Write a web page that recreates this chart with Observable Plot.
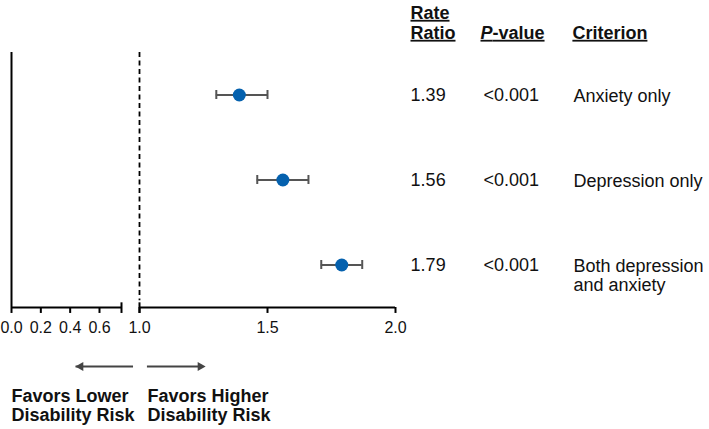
<!DOCTYPE html>
<html><head><meta charset="utf-8">
<script src="https://cdn.jsdelivr.net/npm/d3@7"></script>
<script src="https://cdn.jsdelivr.net/npm/@observablehq/plot@0.6"></script>
<style>
body{margin:0;background:#fff;}
</style></head><body><div id="chart"></div>
<script>
// ---- data ----
const criteria = ["Anxiety only", "Depression only", "Both depression\nand anxiety"];
const rateRatio = [1.39, 1.56, 1.79];
const ciLow = [1.30, 1.46, 1.71];
const ciHigh = [1.50, 1.66, 1.87];
const pValues = ["<0.001", "<0.001", "<0.001"];
const headers = ["Rate\nRatio", "P-value", "Criterion"];
const xTicks = [0, 0.2, 0.4, 0.6, 1.0, 1.5, 2.0];
const axisSegments = [[0, 0.75], [1, 2]];
const favorLabels = ["Favors Lower\nDisability Risk", "Favors Higher\nDisability Risk"];

const rows = criteria.map((c, i) => ({row: i + 1, criterion: c, rr: rateRatio[i], lo: ciLow[i], hi: ciHigh[i], p: pValues[i]}));
const segs = axisSegments.map(([a, b]) => ({a, b}));

// broken-axis transform: 0–0.75 compressed, gap, 1–2 expanded
const brokenAxis = d3.scaleLinear().domain([0, 0.75, 1, 2]).range([0, 110, 128, 384]);

// column positions (in x-scale units, to the right of the plotted range)
const colRR = 2.059, colP = 2.344, colCrit = 2.695;
const hdrX = [2.0586, 2.332, 2.691];
const capHalf = 0.053;
const axisY = 3.5;
const font = "Liberation Sans, Arial, Helvetica, sans-serif";

const plot = Plot.plot({
  width: 709,
  height: 429,
  marginTop: 52,
  marginBottom: 122,
  style: {fontFamily: font, fontSize: "18px", color: "#000", background: "#fff"},
  x: {transform: v => brokenAxis(v), domain: [0, 384], range: [11, 395], axis: null},
  y: {domain: [0.5, 3.5], reverse: true, axis: null},
  marks: [
    // left solid line
    Plot.ruleX([0], {y1: 0.5, y2: axisY, stroke: "#000", strokeWidth: 2}),
    // reference dashed line at 1
    Plot.ruleX([1], {y1: 0.5, y2: 3.42, stroke: "#000", strokeWidth: 1.8, strokeDasharray: "5,3.5"}),
    // broken axis
    Plot.ruleY(segs, {x1: "a", x2: "b", y: axisY, stroke: "#000", strokeWidth: 2}),
    Plot.ruleX([0.75, 1], {y1: axisY - 0.055, y2: axisY + 0.07, stroke: "#000", strokeWidth: 2}),
    Plot.ruleX(xTicks, {x: d => d, y1: axisY, y2: axisY + 0.07, stroke: "#000", strokeWidth: 2}),
    Plot.text(xTicks, {x: d => d, y: axisY, text: d => d3.format(".1f")(d), lineAnchor: "top", dy: 14.6, fontSize: 16, fill: "#111"}),
    // CI
    Plot.ruleY(rows, {x1: "lo", x2: "hi", y: "row", stroke: "#555", strokeWidth: 2}),
    Plot.ruleX(rows, {x: "lo", y1: d => d.row - capHalf, y2: d => d.row + capHalf, stroke: "#555", strokeWidth: 2}),
    Plot.ruleX(rows, {x: "hi", y1: d => d.row - capHalf, y2: d => d.row + capHalf, stroke: "#555", strokeWidth: 2}),
    Plot.dot(rows, {x: "rr", y: "row", r: 6.5, fill: "#0561AE", stroke: "none"}),
    // table
    Plot.text(rows, {x: colRR, y: "row", text: d => d3.format(".2f")(d.rr), textAnchor: "start", fontSize: 18, fill: "#111"}),
    Plot.text(rows, {x: colP, y: "row", text: "p", textAnchor: "start", fontSize: 18, fill: "#111"}),
    Plot.text(rows, {x: colCrit, y: "row", text: "criterion", textAnchor: "start", lineAnchor: "top", lineHeight: 1.06, dy: -7, fontSize: 18, fill: "#111"}),
    // headers
    Plot.text(headers, {x: hdrX, y: 0.3388, text: d => d, textAnchor: "start", lineAnchor: "bottom", lineHeight: 1.11, fontWeight: "bold", fontSize: 18, fill: "#111"}),
    // favor arrows
    Plot.ruleY([0], {x1: 0.44, x2: 0.917, y: 4.194, stroke: "#444", strokeWidth: 2}),
    Plot.ruleY([0], {x1: 1.031, x2: 1.24, y: 4.194, stroke: "#444", strokeWidth: 2}),
    Plot.dot([0.436], {x: d => d, y: 4.194, symbol: "triangle", r: 3.4, rotate: -90, dx: 5.2, fill: "#444", stroke: "none"}),
    Plot.dot([1.258], {x: d => d, y: 4.194, symbol: "triangle", r: 3.4, rotate: 90, dx: -5.2, fill: "#444", stroke: "none"}),
    Plot.text(favorLabels, {x: [0, 1.031], y: 4.841, text: d => d, textAnchor: "start", lineAnchor: "bottom", lineHeight: 1.11, fontWeight: "bold", fontSize: 18, fill: "#111"})
  ]
});

const hdrContents = headers.map(h => h.replace("\n", ""));
d3.select(plot).selectAll("text").each(function() {
  const t = this.textContent;
  if (!hdrContents.includes(t)) return;
  d3.select(this).style("text-decoration", "underline");
  if (t === "P-value") {
    this.textContent = "";
    d3.select(this).append("tspan").attr("font-style", "italic").text("P");
    d3.select(this).append("tspan").text("-value");
  }
});
document.getElementById("chart").appendChild(plot);
</script></body></html>
